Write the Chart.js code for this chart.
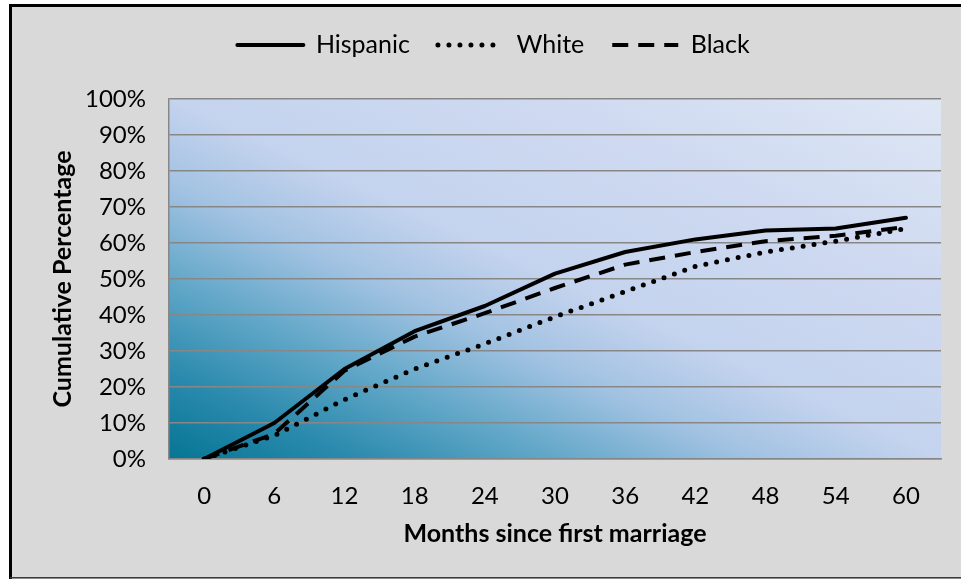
<!DOCTYPE html>
<html>
<head>
<meta charset="utf-8">
<script src="https://cdn.jsdelivr.net/npm/chart.js@4"></script>
<style>
  html, body { margin: 0; padding: 0; background: #fff; overflow: hidden; }
  #wrap { position: relative; width: 961px; height: 579px; }
</style>
</head>
<body>
<div id="wrap"><canvas id="c" width="961" height="579"></canvas></div>
<script>
// Months since first marriage (category axis)
const months = ['0', '6', '12', '18', '24', '30', '36', '42', '48', '54', '60'];

// Cumulative percentage by group
const hispanic = [0, 10, 25, 35.5, 42.5, 51.5, 57.5, 61, 63.5, 64, 67];
const white    = [0, 6.5, 16.5, 25, 32, 39.5, 46.5, 53.5, 57.5, 60.5, 64];
const black    = [0, 7, 24.5, 34, 40.5, 47.5, 54, 57.5, 60.5, 62, 64.5];

const seriesNames = ['Hispanic', 'White', 'Black'];

const FONT = 'Lato, "Open Sans", "DejaVu Sans", sans-serif';
const GRID = '#878787';
const PAD_LEFT = 46;

// Grey panel with black frame and a diagonal teal-to-pale-blue plot background
const panelPlugin = {
  id: 'panel',
  beforeDraw(chart) {
    const { ctx, chartArea: a } = chart;
    ctx.save();
    ctx.fillStyle = '#ffffff';
    ctx.fillRect(0, 0, chart.width, chart.height);
    ctx.fillStyle = '#d9d9d9';
    ctx.fillRect(10, 4, chart.width - 10, chart.height - 4);

    ctx.strokeStyle = '#000';
    ctx.lineWidth = 3;
    ctx.beginPath();
    ctx.moveTo(10.5, chart.height);
    ctx.lineTo(10.5, 5.5);
    ctx.lineTo(chart.width, 5.5);
    ctx.stroke();

    ctx.strokeStyle = '#3a3a3a';
    ctx.lineWidth = 1.5;
    ctx.beginPath();
    ctx.moveTo(10, chart.height - 1.25);
    ctx.lineTo(chart.width, chart.height - 1.25);
    ctx.stroke();

    // gradient runs from bottom-left corner to top-right corner of the plot box
    const w = a.right - a.left, h = a.bottom - a.top;
    const s = 2 * w * h / (w * w + h * h);
    const g = ctx.createLinearGradient(a.left, a.bottom, a.left + s * h, a.bottom - s * w);
    g.addColorStop(0.00, '#067594');
    g.addColorStop(0.12, '#2a8aad');
    g.addColorStop(0.25, '#62a7c8');
    g.addColorStop(0.38, '#a2c2e2');
    g.addColorStop(0.50, '#c4d3ee');
    g.addColorStop(0.75, '#cfdaf1');
    g.addColorStop(1.00, '#dfe7f5');
    ctx.fillStyle = g;
    ctx.fillRect(a.left, a.top, w, h);
    ctx.restore();
  }
};

const lineBase = {
  borderColor: '#000',
  backgroundColor: '#000',
  borderWidth: 4,
  pointRadius: 0,
  pointHoverRadius: 0,
  pointStyle: 'line',
  tension: 0,
  fill: false,
  borderJoinStyle: 'round'
};

// legend samples take the dash, width and cap of each series line
function lineLegendLabels(chart) {
  const items = Chart.defaults.plugins.legend.labels.generateLabels(chart);
  items.forEach(it => {
    const ds = chart.data.datasets[it.datasetIndex];
    it.lineDash = ds.borderDash || [];
    it.lineWidth = ds.borderWidth;
    it.lineCap = ds.borderCapStyle;
    it.strokeStyle = ds.borderColor;
    it.fillStyle = 'rgba(0,0,0,0)';
    it.pointStyle = 'line';
  });
  return items;
}

new Chart(document.getElementById('c'), {
  type: 'line',
  data: {
    labels: months,
    datasets: [
      Object.assign({}, lineBase, { label: seriesNames[0], data: hispanic, borderCapStyle: 'round' }),
      Object.assign({}, lineBase, { label: seriesNames[1], data: white, borderDash: [0, 11], borderCapStyle: 'round', borderWidth: 5 }),
      Object.assign({}, lineBase, { label: seriesNames[2], data: black, borderDash: [16, 10], borderCapStyle: 'butt' })
    ]
  },
  options: {
    responsive: false,
    animation: false,
    devicePixelRatio: 1,
    layout: { padding: { left: PAD_LEFT, right: 20, top: 4.5, bottom: 32 } },
    plugins: {
      legend: {
        position: 'top',
        weight: 3000,
        labels: {
          color: '#000',
          font: { family: FONT, size: 25 },
          usePointStyle: true,
          pointStyle: 'line',
          pointStyleWidth: 66,
          padding: 28,
          generateLabels: lineLegendLabels
        }
      },
      title: {
        display: true,
        text: '',
        font: { size: 1, lineHeight: 1 },
        padding: { top: 0, bottom: 30.5 }
      },
      tooltip: { enabled: false }
    },
    scales: {
      x: {
        type: 'category',
        offset: true,
        afterFit(scale) { scale.height = 88; },
        grid: { display: false, drawTicks: false },
        border: { display: true, color: GRID, width: 1.5 },
        ticks: { color: '#000', font: { family: FONT, size: 24 }, padding: 23 },
        title: {
          display: true,
          text: 'Months since first marriage',
          color: '#000',
          font: { family: FONT, size: 25, weight: 'bold' },
          padding: { top: 0, bottom: -2 }
        }
      },
      y: {
        min: 0,
        max: 100,
        afterFit(scale) { scale.width = 169 - PAD_LEFT; },
        grid: { color: GRID, lineWidth: 1.5, drawTicks: false },
        border: { display: true, color: GRID, width: 1.5 },
        ticks: {
          stepSize: 10,
          color: '#000',
          font: { family: FONT, size: 24 },
          padding: 23,
          callback: v => v + '%'
        },
        title: {
          display: true,
          text: 'Cumulative Percentage',
          color: '#000',
          font: { family: FONT, size: 25, weight: 'bold' },
          padding: { top: 2, bottom: 0 }
        }
      }
    }
  },
  plugins: [panelPlugin]
});
</script>
</body>
</html>
